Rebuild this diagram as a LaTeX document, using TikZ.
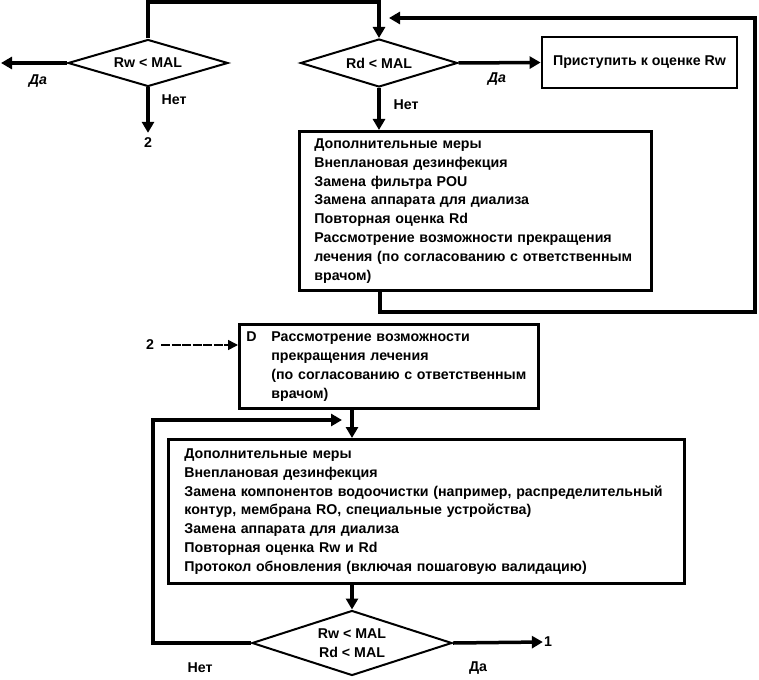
\documentclass[tikz,border=0pt]{standalone}
\usepackage{fontspec}
\setmainfont{Liberation Sans}
\usetikzlibrary{arrows.meta,shapes.geometric}
\newcommand{\ind}{\hspace*{8pt}}
\begin{document}
\begin{tikzpicture}[x=1pt,y=-1pt,
  every node/.style={font=\fontsize{14.2}{18.8}\selectfont\bfseries},
  conn/.style={line width=3.5pt},
  arr/.style={conn,-{Triangle[length=11pt,width=12pt]}},
  thinarr/.style={line width=1.6pt,dash pattern=on 9pt off 1.5pt,-{Triangle[length=10pt,width=10pt]}},
  boxnode/.style={draw,line width=2.8pt,rectangle,anchor=north west,align=left,inner ysep=0pt},
  decision/.style={draw,line width=2pt,diamond,inner sep=0pt,align=center},
  lbl/.style={inner sep=1pt}]
\useasboundingbox (0,0) rectangle (759,679);
% decisions
\node[decision,aspect=3.3,minimum width=160pt,minimum height=47pt] (dRw) at (148,63) {Rw < MAL};
\node[decision,aspect=3.3,minimum width=157pt,minimum height=48pt] (dRd) at (379,63) {Rd < MAL};
\node[decision,aspect=3.08,minimum width=200pt,minimum height=65pt,font=\fontsize{14.2}{19}\selectfont\bfseries] (dAll) at (352,643) {Rw < MAL\\Rd < MAL};
% boxes
\node[draw,line width=2.8pt,rectangle,minimum width=195pt,minimum height=51pt,inner sep=0pt] (bRw) at (639.5,62.5) {Приступить к оценке Rw};
\node[boxnode,text width=338pt,inner xsep=7pt,minimum height=159pt] (box1) at (298,130)
{\ind Дополнительные меры\\
\ind Внеплановая дезинфекция\\
\ind Замена фильтра POU\\
\ind Замена аппарата для диализа\\
\ind Повторная оценка Rd\\
\ind Рассмотрение возможности прекращения\\
\ind лечения (по согласованию с ответственным\\
\ind врачом)};
\node[boxnode,text width=285pt,inner xsep=7pt,minimum height=84pt,font=\fontsize{14.2}{19}\selectfont\bfseries] (box2) at (238,323)
{\makebox[25pt][l]{D}Рассмотрение возможности\\
\hspace*{25pt}прекращения лечения\\
\hspace*{25pt}(по согласованию с ответственным\\
\hspace*{25pt}врачом)};
\node[boxnode,text width=500pt,inner xsep=8pt,minimum height=144pt] (box3) at (167,438)
{\ind Дополнительные меры\\
\ind Внеплановая дезинфекция\\
\ind Замена компонентов водоочистки (например, распределительный\\
\ind контур, мембрана RO, специальные устройства)\\
\ind Замена аппарата для диализа\\
\ind Повторная оценка Rw и Rd\\
\ind Протокол обновления (включая пошаговую валидацию)};
% end labels
\node[lbl] (two1) at (148,143) {2};
\node[lbl] (two2) at (150,345) {2};
\node[lbl] (one) at (548,642) {1};
% branch labels
\node[lbl,font=\fontsize{14.2}{15}\selectfont\bfseries\itshape] (yRw) at (38,81) {Да};
\node[lbl] (nRw) at (174,100) {Нет};
\node[lbl,font=\fontsize{14.2}{15}\selectfont\bfseries\itshape] (yRd) at (497,79) {Да};
\node[lbl] (nRd) at (406,105) {Нет};
\node[lbl] (nAll) at (200,668) {Нет};
\node[lbl] (yAll) at (478,668) {Да};
% coordinates
\coordinate (top) at (379,2);
\coordinate (yesL) at (1,63);
\coordinate (l1) at (380,312);
\coordinate (l2) at (755,312);
\coordinate (l3) at (755,18);
\coordinate (l4) at (389,18);
\coordinate (n1) at (153,643);
\coordinate (n2) at (153,420);
\coordinate (n3) at (342,420);
% connectors
\draw[arr] (dRw.north) |- (top) -- (dRd.north);
\draw[arr] (dRw.west) -- (yesL);
\draw[arr,shorten >=4pt] (dRw.south) -- (two1.north);
\draw[arr] (dRd.east) -- (bRw.west);
\draw[arr] (dRd.south) -- (dRd.south |- box1.north);
\draw[arr] (box1.south -| l1) -- (l1) -- (l2) -- (l3) -- (l4);
\draw[thinarr,shorten <=6pt] (two2.east) -- (box2.west |- two2);
\draw[arr] (box2.south -| dAll) -- (box3.north -| dAll);
\draw[arr] (box3.south -| dAll) -- (dAll.north);
\draw[arr] (dAll.east) -- (one.west);
\draw[arr] (dAll.west) -- (n1) -- (n2) -- (n3);
\end{tikzpicture}
\end{document}
